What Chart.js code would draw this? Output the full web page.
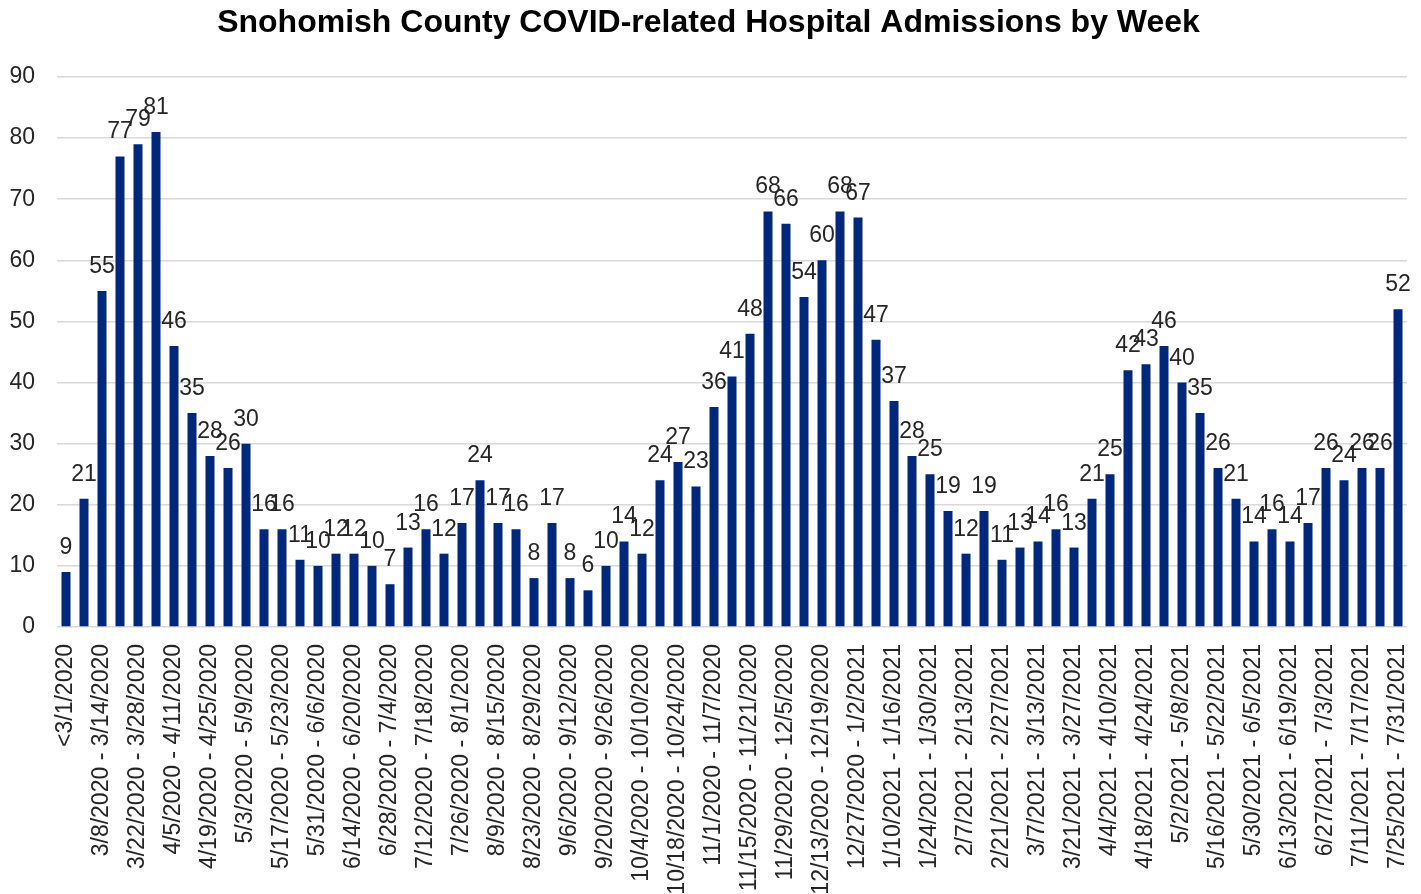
<!DOCTYPE html>
<html>
<head>
<meta charset="utf-8">
<script src="https://cdn.jsdelivr.net/npm/chart.js@4.4.1/dist/chart.umd.min.js"></script>
<style>
  html, body { margin: 0; padding: 0; background: #ffffff; }
  #wrap { position: relative; width: 1421px; height: 894px; }
</style>
</head>
<body>
<div id="wrap"><canvas id="c"></canvas></div>
<script>
const chartTitle = "Snohomish County COVID-related Hospital Admissions by Week";

const weekLabels = [
  "<3/1/2020",
  "3/1/2020 - 3/7/2020",
  "3/8/2020 - 3/14/2020",
  "3/15/2020 - 3/21/2020",
  "3/22/2020 - 3/28/2020",
  "3/29/2020 - 4/4/2020",
  "4/5/2020 - 4/11/2020",
  "4/12/2020 - 4/18/2020",
  "4/19/2020 - 4/25/2020",
  "4/26/2020 - 5/2/2020",
  "5/3/2020 - 5/9/2020",
  "5/10/2020 - 5/16/2020",
  "5/17/2020 - 5/23/2020",
  "5/24/2020 - 5/30/2020",
  "5/31/2020 - 6/6/2020",
  "6/7/2020 - 6/13/2020",
  "6/14/2020 - 6/20/2020",
  "6/21/2020 - 6/27/2020",
  "6/28/2020 - 7/4/2020",
  "7/5/2020 - 7/11/2020",
  "7/12/2020 - 7/18/2020",
  "7/19/2020 - 7/25/2020",
  "7/26/2020 - 8/1/2020",
  "8/2/2020 - 8/8/2020",
  "8/9/2020 - 8/15/2020",
  "8/16/2020 - 8/22/2020",
  "8/23/2020 - 8/29/2020",
  "8/30/2020 - 9/5/2020",
  "9/6/2020 - 9/12/2020",
  "9/13/2020 - 9/19/2020",
  "9/20/2020 - 9/26/2020",
  "9/27/2020 - 10/3/2020",
  "10/4/2020 - 10/10/2020",
  "10/11/2020 - 10/17/2020",
  "10/18/2020 - 10/24/2020",
  "10/25/2020 - 10/31/2020",
  "11/1/2020 - 11/7/2020",
  "11/8/2020 - 11/14/2020",
  "11/15/2020 - 11/21/2020",
  "11/22/2020 - 11/28/2020",
  "11/29/2020 - 12/5/2020",
  "12/6/2020 - 12/12/2020",
  "12/13/2020 - 12/19/2020",
  "12/20/2020 - 12/26/2020",
  "12/27/2020 - 1/2/2021",
  "1/3/2021 - 1/9/2021",
  "1/10/2021 - 1/16/2021",
  "1/17/2021 - 1/23/2021",
  "1/24/2021 - 1/30/2021",
  "1/31/2021 - 2/6/2021",
  "2/7/2021 - 2/13/2021",
  "2/14/2021 - 2/20/2021",
  "2/21/2021 - 2/27/2021",
  "2/28/2021 - 3/6/2021",
  "3/7/2021 - 3/13/2021",
  "3/14/2021 - 3/20/2021",
  "3/21/2021 - 3/27/2021",
  "3/28/2021 - 4/3/2021",
  "4/4/2021 - 4/10/2021",
  "4/11/2021 - 4/17/2021",
  "4/18/2021 - 4/24/2021",
  "4/25/2021 - 5/1/2021",
  "5/2/2021 - 5/8/2021",
  "5/9/2021 - 5/15/2021",
  "5/16/2021 - 5/22/2021",
  "5/23/2021 - 5/29/2021",
  "5/30/2021 - 6/5/2021",
  "6/6/2021 - 6/12/2021",
  "6/13/2021 - 6/19/2021",
  "6/20/2021 - 6/26/2021",
  "6/27/2021 - 7/3/2021",
  "7/4/2021 - 7/10/2021",
  "7/11/2021 - 7/17/2021",
  "7/18/2021 - 7/24/2021",
  "7/25/2021 - 7/31/2021"
];

const admissions = [
  9, 21, 55, 77, 79, 81, 46, 35, 28, 26,
  30, 16, 16, 11, 10, 12, 12, 10, 7, 13,
  16, 12, 17, 24, 17, 16, 8, 17, 8, 6,
  10, 14, 12, 24, 27, 23, 36, 41, 48, 68,
  66, 54, 60, 68, 67, 47, 37, 28, 25, 19,
  12, 19, 11, 13, 14, 16, 13, 21, 25, 42,
  43, 46, 40, 35, 26, 21, 14, 16, 14, 17,
  26, 24, 26, 26, 52
];

const yTicks = [0, 10, 20, 30, 40, 50, 60, 70, 80, 90];

const FONT = "'Liberation Sans', Arial, sans-serif";
const BAR_COLOR = "#00287A";
const TEXT_COLOR = "#262626";

const dataLabelPlugin = {
  id: 'dataLabelPlugin',
  afterDatasetsDraw(chart) {
    const ctx = chart.ctx;
    const meta = chart.getDatasetMeta(0);
    const values = chart.data.datasets[0].data;
    ctx.save();
    ctx.font = "23px " + FONT;
    ctx.fillStyle = TEXT_COLOR;
    ctx.textAlign = 'center';
    ctx.textBaseline = 'alphabetic';
    meta.data.forEach((bar, i) => {
      ctx.fillText(String(values[i]), bar.x, bar.y - 18);
    });
    ctx.restore();
  }
};

new Chart(document.getElementById('c'), {
  type: 'bar',
  data: {
    labels: weekLabels,
    datasets: [{
      label: 'Admissions',
      data: admissions,
      backgroundColor: BAR_COLOR,
      borderWidth: 0,
      barPercentage: 0.5,
      categoryPercentage: 1.0
    }]
  },
  options: {
    responsive: true,
    maintainAspectRatio: false,
    animation: false,
    events: [],
    layout: { padding: { left: 10, right: 14, top: 0, bottom: 0 } },
    plugins: {
      legend: { display: false },
      tooltip: { enabled: false },
      title: {
        display: true,
        text: chartTitle,
        color: '#000000',
        font: { family: FONT, size: 32, weight: 'bold', lineHeight: 1.2 },
        padding: { top: 4, bottom: 34.6 }
      }
    },
    scales: {
      x: {
        grid: { display: false, drawTicks: false },
        border: { display: false },
        afterFit: (scale) => {
          scale.paddingLeft = 0;
          scale.paddingRight = 0;
          scale.height = 267;
        },
        ticks: {
          autoSkip: false,
          minRotation: 90,
          maxRotation: 90,
          padding: 17,
          color: TEXT_COLOR,
          font: { family: FONT, size: 23 },
          callback: function(value, index) {
            return index % 2 === 0 ? weekLabels[index] : '';
          }
        }
      },
      y: {
        min: yTicks[0],
        max: yTicks[yTicks.length - 1],
        afterBuildTicks: (scale) => { scale.ticks = yTicks.map(v => ({ value: v })); },
        afterFit: (scale) => {
          scale.width = 47;
          scale.paddingTop = 0;
          scale.paddingBottom = 0;
        },
        grid: { color: '#D9D9D9', lineWidth: 1.5, drawTicks: false },
        border: { display: false },
        ticks: {
          padding: 22,
          color: TEXT_COLOR,
          font: { family: FONT, size: 23 }
        }
      }
    }
  },
  plugins: [dataLabelPlugin]
});
</script>
</body>
</html>
